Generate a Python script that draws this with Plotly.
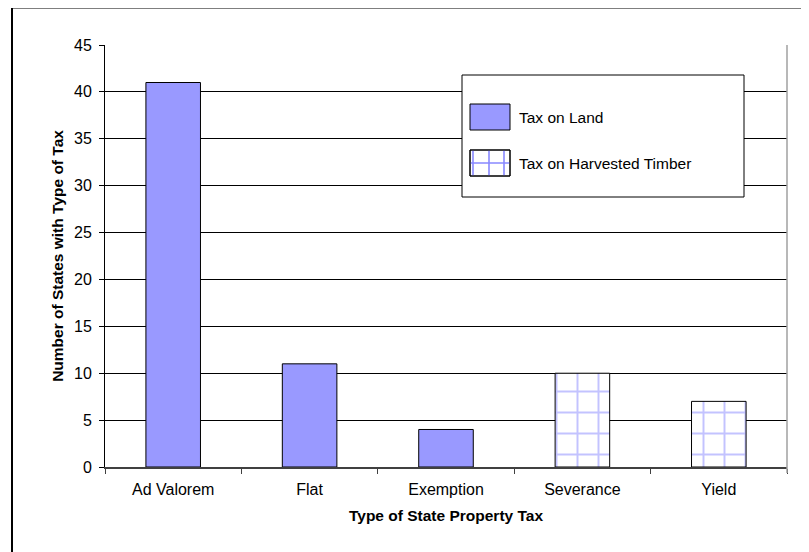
import plotly.graph_objects as go

# ---- data ----
land_categories = ["Ad Valorem", "Flat", "Exemption"]
land_values = [41, 11, 4]
timber_categories = ["Severance", "Yield"]
timber_values = [10, 7]
all_categories = land_categories + timber_categories
y_tick_values = [0, 5, 10, 15, 20, 25, 30, 35, 40, 45]

W, H = 809, 552
OFF = 8  # page offset of the plot div
L, R, T, B = 105 - OFF, 787 - OFF, 45 - OFF, 467 - OFF  # plot area in figure pixels


def px(x):
    # x is a screen pixel
    return (x - OFF - L) / (R - L)


def py(y):
    return (B - (y - OFF)) / (B - T)


FONT = "Arial, Liberation Sans, sans-serif"
BLUE = "#9999FF"
HATCH = "#8888FF"

fig = go.Figure()
fig.add_trace(go.Bar(
    x=land_categories, y=land_values, name="Tax on Land",
    marker=dict(color=BLUE, line=dict(color="black", width=1)),
    showlegend=False,
))
fig.add_trace(go.Bar(
    x=timber_categories, y=timber_values, name="Tax on Harvested Timber",
    marker=dict(color="white", line=dict(color="black", width=1),
                pattern=dict(shape="+", fgcolor=HATCH, bgcolor="white",
                             size=21, solidity=0.18)),
    showlegend=False,
))

shapes = []
# outer frame
shapes.append(dict(type="rect", xref="paper", yref="paper",
                   x0=px(12), x1=px(840), y0=py(580), y1=py(7.5),
                   line=dict(color="black", width=2), fillcolor="rgba(0,0,0,0)"))
# plot area border (right, gray)
shapes.append(dict(type="line", xref="paper", yref="paper",
                   x0=1, x1=1, y0=py(473), y1=1,
                   line=dict(color="#a0a0a0", width=1.5)))
# legend box
shapes.append(dict(type="rect", xref="paper", yref="paper",
                   x0=px(462), x1=px(744), y0=py(197), y1=py(75),
                   line=dict(color="black", width=1), fillcolor="white",
                   layer="above"))
# swatch: Tax on Land
shapes.append(dict(type="rect", xref="paper", yref="paper",
                   x0=px(470), x1=px(510), y0=py(130), y1=py(104),
                   line=dict(color="black", width=1), fillcolor=BLUE,
                   layer="above"))
# swatch: Tax on Harvested Timber (grid hatch)
shapes.append(dict(type="rect", xref="paper", yref="paper",
                   x0=px(470), x1=px(510), y0=py(176), y1=py(150),
                   line=dict(color="black", width=1), fillcolor="white",
                   layer="above"))
for xv in (473, 489, 504):
    shapes.append(dict(type="line", xref="paper", yref="paper",
                       x0=px(xv), x1=px(xv), y0=py(175.5), y1=py(150.5),
                       line=dict(color=HATCH, width=1.6), layer="above"))
shapes.append(dict(type="line", xref="paper", yref="paper",
                   x0=px(470.5), x1=px(509.5), y0=py(163), y1=py(163),
                   line=dict(color=HATCH, width=1.6), layer="above"))
shapes.append(dict(type="rect", xref="paper", yref="paper",
                   x0=px(470), x1=px(510), y0=py(176), y1=py(150),
                   line=dict(color="black", width=1), fillcolor="rgba(0,0,0,0)",
                   layer="above"))

annotations = [
    dict(xref="paper", yref="paper", x=px(517), y=py(117), text="Tax on Land",
         showarrow=False, xanchor="left", yanchor="middle",
         font=dict(family=FONT, size=15.5, color="black")),
    dict(xref="paper", yref="paper", x=px(517), y=py(163),
         text="Tax on Harvested Timber",
         showarrow=False, xanchor="left", yanchor="middle",
         font=dict(family=FONT, size=15.5, color="black")),
]

fig.update_layout(
    width=W, height=H,
    margin=dict(l=L, r=W - R, t=T, b=H - B, pad=0),
    paper_bgcolor="white", plot_bgcolor="white",
    barmode="overlay", bargap=0.6,
    font=dict(family=FONT, size=16, color="black"),
    shapes=shapes, annotations=annotations,
    showlegend=False,
)
fig.update_xaxes(
    categoryorder="array", categoryarray=all_categories,
    showline=True, linecolor="#404040", linewidth=1.5,
    ticks="outside", ticklen=5, tickcolor="#404040", tickwidth=1,
    tickson="boundaries", showgrid=False,
    tickfont=dict(family=FONT, size=16, color="black"),
    ticklabelstandoff=7,
    title=dict(text="<b>Type of State Property Tax</b>",
               font=dict(family=FONT, size=15.5, color="black"), standoff=13),
)
fig.update_yaxes(
    range=[0, 45], tickvals=y_tick_values,
    showline=True, linecolor="black", linewidth=1,
    ticks="outside", ticklen=5, tickcolor="black", tickwidth=1,
    showgrid=True, gridcolor="black", gridwidth=1,
    zeroline=False,
    tickfont=dict(family=FONT, size=16, color="black"),
    ticklabelstandoff=4,
    title=dict(text="<b>Number of States with Type of Tax</b>",
               font=dict(family=FONT, size=15.5, color="black"), standoff=6),
)

fig.write_html("out.html")
